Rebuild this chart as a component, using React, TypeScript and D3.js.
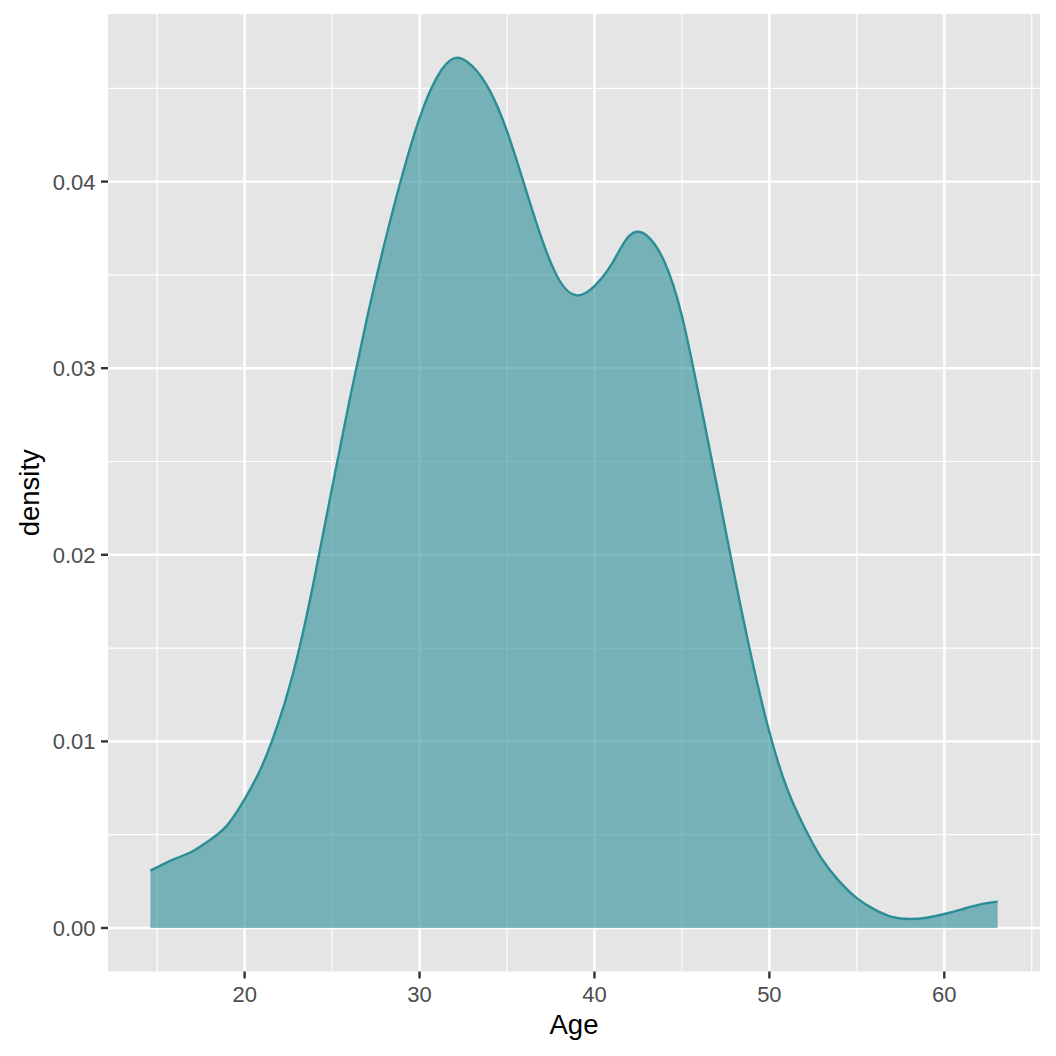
import React from "react";
import * as d3 from "d3";

const ages = [14.61, 16, 17, 18, 19, 20, 21, 22, 23, 24, 25, 26, 27, 28, 29, 30, 31, 32, 33, 34, 35, 36, 37, 38, 39, 40, 41, 42, 43, 44, 45, 46, 47, 48, 49, 50, 51, 52, 53, 54, 55, 56, 57, 58, 59, 60, 61, 62, 63.05];
const densities = [0.00307, 0.0037, 0.0041, 0.0047, 0.0055, 0.0069, 0.0087, 0.0112, 0.0145, 0.0188, 0.0236, 0.0283, 0.0327, 0.0367, 0.0403, 0.0434, 0.0456, 0.04662, 0.0462, 0.0449, 0.0427, 0.0398, 0.0369, 0.0347, 0.0339, 0.0344, 0.0356, 0.0371, 0.0371, 0.0357, 0.0328, 0.0284, 0.0237, 0.0189, 0.0144, 0.0105, 0.0075, 0.0054, 0.0037, 0.0025, 0.0016, 0.0010, 0.0006, 0.00048, 0.00055, 0.00075, 0.0010, 0.00125, 0.00141];

const xTicks = [20, 30, 40, 50, 60];
const xMinor = [15, 25, 35, 45, 55, 65];
const yTicks = [0, 0.01, 0.02, 0.03, 0.04];
const yMinor = [0.005, 0.015, 0.025, 0.035, 0.045];

const W = 1056, H = 1056;
const panel = { left: 108, right: 1040, top: 14, bottom: 971.5 };

export default function App() {
  const xmin = d3.min(ages)!, xmax = d3.max(ages)!;
  const xpad = (xmax - xmin) * 0.05;
  const ymax = 0.04665;
  const x = d3.scaleLinear().domain([xmin - xpad, xmax + xpad]).range([panel.left, panel.right]);
  const y = d3.scaleLinear().domain([-ymax * 0.05, ymax * 1.05]).range([panel.bottom, panel.top]);
  const data = ages.map((a, i) => ({ a, d: densities[i] }));
  const curve = d3.curveNatural;
  const area = d3.area<{ a: number; d: number }>().x(p => x(p.a)).y0(y(0)).y1(p => y(p.d)).curve(curve);
  const line = d3.line<{ a: number; d: number }>().x(p => x(p.a)).y(p => y(p.d)).curve(curve);
  const col = "#2b8e97";
  const font = "'Liberation Sans', Arial, Helvetica, sans-serif";
  return (
    <svg width={W} height={H} style={{ position: "absolute", left: 0, top: 0, background: "#fff" }} fontFamily={font}>
      <rect x={panel.left} y={panel.top} width={panel.right - panel.left} height={panel.bottom - panel.top} fill="#e5e5e5" />
      {xMinor.map(v => (
        <line key={"xm" + v} x1={x(v)} x2={x(v)} y1={panel.top} y2={panel.bottom} stroke="#fff" strokeWidth={1.2} />
      ))}
      {yMinor.map(v => (
        <line key={"ym" + v} y1={y(v)} y2={y(v)} x1={panel.left} x2={panel.right} stroke="#fff" strokeWidth={1.2} />
      ))}
      {xTicks.map(v => (
        <line key={"xg" + v} x1={x(v)} x2={x(v)} y1={panel.top} y2={panel.bottom} stroke="#fff" strokeWidth={2.4} />
      ))}
      {yTicks.map(v => (
        <line key={"yg" + v} y1={y(v)} y2={y(v)} x1={panel.left} x2={panel.right} stroke="#fff" strokeWidth={2.4} />
      ))}
      <path d={area(data)!} fill={col} fillOpacity={0.6} stroke="none" />
      <path d={line(data)!} fill="none" stroke={col} strokeWidth={2.4} />
      {xTicks.map(v => (
        <g key={"xt" + v}>
          <line x1={x(v)} x2={x(v)} y1={panel.bottom} y2={panel.bottom + 7} stroke="#333" strokeWidth={2.4} />
          <text x={x(v)} y={1002} textAnchor="middle" fontSize={22} fill="#4d4d4d">{v}</text>
        </g>
      ))}
      {yTicks.map(v => (
        <g key={"yt" + v}>
          <line x1={panel.left - 7} x2={panel.left} y1={y(v)} y2={y(v)} stroke="#333" strokeWidth={2.4} />
          <text x={95.5} y={y(v)} dy="0.36em" textAnchor="end" fontSize={22} fill="#4d4d4d">{v.toFixed(2)}</text>
        </g>
      ))}
      <text x={(panel.left + panel.right) / 2} y={1034} textAnchor="middle" fontSize={27.5} fill="#000">Age</text>
      <text transform={`translate(39,${(panel.top + panel.bottom) / 2}) rotate(-90)`} textAnchor="middle" fontSize={27.5} fill="#000">density</text>
    </svg>
  );
}
